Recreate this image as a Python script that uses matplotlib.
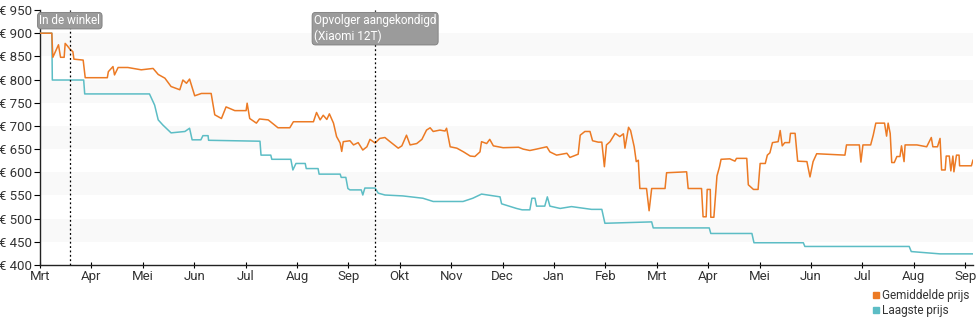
import matplotlib.pyplot as plt
from matplotlib.lines import Line2D

plt.rcParams['font.family'] = ['Roboto', 'DejaVu Sans']

# time axis in months since March 2022 (one tick per month)
month_labels = ['Mrt', 'Apr', 'Mei', 'Jun', 'Jul', 'Aug', 'Sep', 'Okt', 'Nov', 'Dec',
                'Jan', 'Feb', 'Mrt', 'Apr', 'Mei', 'Jun', 'Jul', 'Aug', 'Sep']

# average price
avg_t = [0.00, 0.23, 0.25, 0.36, 0.40, 0.47, 0.49, 0.53, 0.58, 0.64, 0.66, 0.84, 0.88,
         1.31, 1.33, 1.42, 1.45, 1.52, 1.71, 1.97, 2.20, 2.30, 2.43, 2.55, 2.72, 2.78,
         2.85, 2.91, 3.01, 3.14, 3.33, 3.40, 3.53, 3.62, 3.79, 4.01, 4.03, 4.08, 4.21,
         4.27, 4.44, 4.63, 4.86, 4.93, 5.32, 5.38, 5.45, 5.51, 5.58, 5.63, 5.71, 5.77,
         5.84, 5.87, 5.90, 6.03, 6.10, 6.19, 6.28, 6.36, 6.42, 6.52, 6.61, 6.71, 6.81,
         6.97, 7.04, 7.13, 7.20, 7.33, 7.43, 7.52, 7.59, 7.65, 7.78, 7.88, 7.91, 7.98,
         8.11, 8.24, 8.37, 8.46, 8.56, 8.59, 8.69, 8.75, 8.82, 9.01, 9.31, 9.40, 9.53,
         9.66, 9.86, 9.92, 10.05, 10.25, 10.31, 10.47, 10.51, 10.60, 10.70, 10.75, 10.86,
         10.93, 10.98, 11.02, 11.09, 11.19, 11.28, 11.35, 11.38, 11.45, 11.49, 11.56,
         11.60, 11.64, 11.67, 11.80, 11.85, 11.90, 12.16, 12.19, 12.58, 12.61, 12.87,
         12.90, 12.96, 12.98, 13.04, 13.05, 13.11, 13.17, 13.22, 13.25, 13.42, 13.52,
         13.55, 13.75, 13.78, 13.88, 13.97, 14.01, 14.11, 14.15, 14.20, 14.25, 14.36,
         14.40, 14.44, 14.49, 14.58, 14.60, 14.69, 14.74, 14.92, 14.98, 15.04, 15.11,
         15.66, 15.69, 15.94, 15.97, 16.01, 16.16, 16.21, 16.26, 16.43, 16.47, 16.50,
         16.54, 16.57, 16.62, 16.67, 16.73, 16.76, 16.81, 16.83, 17.06, 17.25, 17.34,
         17.37, 17.46, 17.51, 17.54, 17.61, 17.63, 17.69, 17.72, 17.76, 17.78, 17.83,
         17.88, 17.89, 18.12, 18.15]
avg_price = [900, 900, 848, 875, 848, 848, 878, 873, 866, 860, 844, 842, 804,
             804, 817, 828, 810, 826, 826, 821, 824, 811, 803, 785, 778, 799,
             792, 801, 765, 770, 770, 724, 716, 741, 733, 733, 749, 716, 706,
             715, 713, 696, 696, 709, 709, 729, 713, 723, 714, 726, 706, 677,
             663, 645, 666, 668, 659, 664, 648, 655, 671, 663, 673, 675, 666,
             652, 657, 680, 659, 662, 671, 691, 696, 688, 691, 689, 695, 655,
             652, 644, 635, 634, 644, 666, 662, 671, 657, 653, 654, 650, 647,
             650, 655, 644, 637, 641, 632, 639, 680, 688, 688, 668, 665,
             665, 612, 659, 666, 684, 677, 683, 652, 697, 690, 655,
             623, 626, 565, 565, 517, 565, 565, 599, 601, 565, 565,
             504, 504, 563, 563, 503, 503, 592, 612, 628, 629, 624,
             630, 630, 573, 563, 563, 619, 619, 637, 642, 664, 666,
             690, 657, 664, 664, 684, 684, 624, 623, 590, 623, 640,
             637, 659, 659, 622, 659, 659, 680, 706, 706, 678, 706,
             684, 621, 621, 634, 634, 657, 623, 659, 659, 655, 675,
             655, 655, 673, 605, 605, 635, 635, 603, 635, 601, 637,
             637, 614, 614, 626]

# lowest price
low_t = [0.00, 0.23, 0.24, 0.85, 0.87, 2.13, 2.23, 2.30, 2.39, 2.55, 2.82, 2.91, 2.96,
         3.13, 3.17, 3.27, 3.28, 4.28, 4.30, 4.49, 4.51, 4.88, 4.92, 4.98, 5.16, 5.18,
         5.41, 5.43, 5.84, 5.86, 5.95, 5.99, 6.03, 6.25, 6.28, 6.32, 6.52, 6.58, 6.71,
         7.06, 7.45, 7.65, 8.23, 8.42, 8.59, 8.95, 8.98, 9.27, 9.38, 9.53, 9.57, 9.63,
         9.66, 9.82, 9.87, 9.92, 10.12, 10.34, 10.73, 10.93, 10.99, 11.90, 11.93, 13.02,
         13.05, 13.85, 13.89, 14.85, 14.88, 16.91, 16.95, 17.51, 18.15]
low_price = [900, 900, 799, 799, 769, 769, 745, 713, 702, 685, 688, 695, 670,
             670, 679, 679, 669, 667, 637, 637, 628, 628, 605, 619, 619, 608,
             608, 596, 596, 589, 589, 565, 562, 562, 551, 566, 566, 555, 551,
             549, 544, 537, 537, 544, 553, 547, 532, 522, 519, 519, 544, 544,
             527, 527, 547, 527, 522, 526, 520, 520, 490, 493, 480, 480,
             468, 468, 448, 448, 440, 440, 429, 424, 424]

# events
event_t = [0.58, 6.52]
event_labels = ['In de winkel', 'Opvolger aangekondigd\n(Xiaomi 12T)']

orange = '#ec7a24'
teal = '#5cbdc5'

fig = plt.figure(figsize=(9.8, 3.25), dpi=100)
ax = fig.add_axes([0.0408, 0.1846, 0.952, 0.7846])

for lo in range(450, 900, 100):
    ax.axhspan(lo, lo + 50, color='#f9f9f9', lw=0, zorder=0)

ax.plot(low_t, low_price, color=teal, lw=1.1, zorder=3)
ax.plot(avg_t, avg_price, color=orange, lw=1.1, zorder=4)

for t, lab in zip(event_t, event_labels):
    ax.axvline(t, color='black', ls=(0, (1.5, 2)), lw=0.9, zorder=5)
    ax.text(t, 941, lab, ha='center', va='top', color='white', fontsize=8.5,
            multialignment='left', linespacing=1.25, zorder=6,
            bbox=dict(boxstyle='round,pad=0.15,rounding_size=0.3', fc='#9b9b9b',
                      ec='#7d7d7d', lw=0.6))

ax.set_xlim(0, 18.15)
ax.set_ylim(400, 950)
ax.set_xticks(range(len(month_labels)))
ax.set_xticklabels(month_labels)
ax.set_yticks(range(400, 951, 50))
ax.set_yticklabels([f'€ {v}' for v in range(400, 951, 50)])

for s in ['top', 'right']:
    ax.spines[s].set_visible(False)
for s in ['left', 'bottom']:
    ax.spines[s].set_color('#222222')
    ax.spines[s].set_linewidth(1.0)
ax.tick_params(axis='y', direction='out', length=4, pad=2, labelsize=9.5,
               labelcolor='#333333')
ax.tick_params(axis='x', direction='inout', length=5, pad=1, labelsize=9.5,
               labelcolor='#333333')

handles = [Line2D([], [], marker='s', ls='', color=orange, markersize=5),
           Line2D([], [], marker='s', ls='', color=teal, markersize=5)]
fig.legend(handles, ['Gemiddelde prijs', 'Laagste prijs'], loc='lower right',
           bbox_to_anchor=(0.998, 0.0), frameon=False, fontsize=8.5,
           handlelength=0.6, handletextpad=0.2, labelspacing=0.15,
           borderpad=0.2, labelcolor='#333333')

fig.savefig('out.png', dpi=100)
